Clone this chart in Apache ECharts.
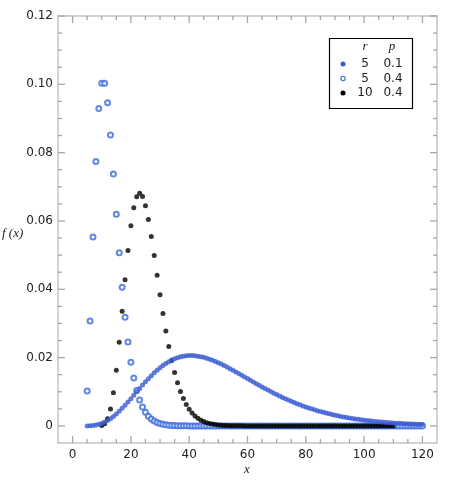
<!DOCTYPE html>
<html>
<head>
<meta charset="utf-8">
<script src="https://cdn.jsdelivr.net/npm/echarts@6/dist/echarts.min.js"></script>
<style>html,body{margin:0;padding:0;background:#fff}#main{width:460px;height:480px}</style>
</head>
<body>
<div id="main"></div>
<script>
// r = 5, p = 0.1  (x from 5 to 120)
var xStartA = 5;
var valuesA = [
  0.00001, 0.000045, 0.00012, 0.00026, 0.00046, 0.00074, 0.00112, 0.00158, 0.00213, 0.00277,
  0.00349, 0.00428, 0.00514, 0.00605, 0.00700, 0.00798, 0.00898, 0.00998, 0.01098, 0.01196,
  0.01292, 0.01384, 0.01472, 0.01555, 0.01633, 0.01705, 0.01771, 0.01830, 0.01882, 0.01927,
  0.01966, 0.01998, 0.02023, 0.02041, 0.02053, 0.02059, 0.02059, 0.02053, 0.02042, 0.02027,
  0.02007, 0.01982, 0.01954, 0.01922, 0.01887, 0.01849, 0.01809, 0.01767, 0.01723, 0.01677,
  0.01630, 0.01582, 0.01533, 0.01484, 0.01435, 0.01385, 0.01336, 0.01286, 0.01238, 0.01189,
  0.01142, 0.01095, 0.01049, 0.01004, 0.00960, 0.00917, 0.00876, 0.00835, 0.00796, 0.00758,
  0.00721, 0.00685, 0.00651, 0.00618, 0.00586, 0.00556, 0.00527, 0.00499, 0.00472, 0.00446,
  0.00422, 0.00398, 0.00376, 0.00355, 0.00334, 0.00315, 0.00297, 0.00279, 0.00263, 0.00247,
  0.00232, 0.00218, 0.00205, 0.00192, 0.00181, 0.00169, 0.00159, 0.00149, 0.00139, 0.00130,
  0.00122, 0.00114, 0.00107, 0.00100, 0.00093, 0.00087, 0.00081, 0.00076, 0.00071, 0.00066,
  0.00062, 0.00058, 0.00054, 0.00050, 0.00047, 0.00043
];
// r = 5, p = 0.4  (x from 5 to 120)
var xStartB = 5;
var valuesB = [
  0.01024, 0.03072, 0.05530, 0.07741, 0.09290, 0.10033, 0.10033, 0.09460, 0.08514, 0.07378,
  0.06198, 0.05071, 0.04057, 0.03183, 0.02455, 0.01866, 0.01400, 0.01037, 0.00761, 0.00553,
  0.00398, 0.00284, 0.00202, 0.00142, 0.00099, 0.00069, 0.00048, 0.00033, 0.00023, 0.00015,
  0.00011, 0.00007, 0.00005, 0.00003, 0.00002, 0.00001, 0, 0, 0, 0,
  0, 0, 0, 0, 0, 0, 0, 0, 0, 0,
  0, 0, 0, 0, 0, 0, 0, 0, 0, 0,
  0, 0, 0, 0, 0, 0, 0, 0, 0, 0,
  0, 0, 0, 0, 0, 0, 0, 0, 0, 0,
  0, 0, 0, 0, 0, 0, 0, 0, 0, 0,
  0, 0, 0, 0, 0, 0, 0, 0, 0, 0,
  0, 0, 0, 0, 0, 0, 0, 0, 0, 0,
  0, 0, 0, 0, 0, 0
];
// r = 10, p = 0.4  (x from 10 to 120)
var xStartC = 10;
var valuesC = [
  0.00010, 0.00063, 0.00208, 0.00498, 0.00972, 0.01632, 0.02449, 0.03358, 0.04281, 0.05138,
  0.05857, 0.06390, 0.06709, 0.06812, 0.06715, 0.06446, 0.06043, 0.05546, 0.04991, 0.04413,
  0.03840, 0.03291, 0.02782, 0.02323, 0.01916, 0.01564, 0.01263, 0.01010, 0.00801, 0.00630,
  0.00491, 0.00380, 0.00292, 0.00223, 0.00169, 0.00128, 0.00096, 0.00071, 0.00053, 0.00039,
  0.00029, 0.00021, 0.00015, 0.00011, 0.00008, 0.00006, 0.00004, 0.00003, 0.00002, 0.00001,
  0, 0, 0, 0, 0, 0, 0, 0, 0, 0,
  0, 0, 0, 0, 0, 0, 0, 0, 0, 0,
  0, 0, 0, 0, 0, 0, 0, 0, 0, 0,
  0, 0, 0, 0, 0, 0, 0, 0, 0, 0,
  0, 0, 0, 0, 0, 0, 0, 0, 0, 0,
  0
];

var xLabels = [0, 20, 40, 60, 80, 100, 120];
var xTicks = [0, 5, 10, 15, 20, 25, 30, 35, 40, 45, 50, 55, 60, 65, 70, 75, 80, 85, 90, 95, 100, 105, 110, 115, 120];
var yLabels = [0, 0.02, 0.04, 0.06, 0.08, 0.10, 0.12];
var yTicks = [0, 0.005, 0.01, 0.015, 0.02, 0.025, 0.03, 0.035, 0.04, 0.045, 0.05, 0.055, 0.06,
  0.065, 0.07, 0.075, 0.08, 0.085, 0.09, 0.095, 0.1, 0.105, 0.11, 0.115, 0.12];

var legendR = ['5', '5', '10'];
var legendP = ['0.1', '0.4', '0.4'];

(function () {
  var blue = '#3a5bd5';
  var blueOpen = '#3b6ae0';
  var frameColor = '#c4c4c4';
  var tickColor = '#a6a6a6';
  var labelFont = '"DejaVu Sans", sans-serif';
  var serif = '"Liberation Serif", "DejaVu Serif", serif';

  function pairs(x0, ys) {
    return ys.map(function (y, i) { return [x0 + i, y]; });
  }
  function isMajor(v, list) {
    return list.some(function (m) { return Math.abs(m - v) < 1e-9; });
  }

  function xAx(pos, labels) {
    return {
      type: 'value', position: pos, min: -5, max: 125,
      splitLine: { show: false },
      axisLine: { show: true, onZero: false, lineStyle: { color: frameColor, width: 1.5 } },
      axisTick: { show: false },
      axisLabel: labels ? { show: true, customValues: labels, margin: 6, color: '#222', fontSize: 12, fontFamily: labelFont } : { show: false }
    };
  }
  function yAx(pos, labels) {
    return {
      type: 'value', position: pos, min: -0.005, max: 0.12,
      splitLine: { show: false },
      axisLine: { show: true, onZero: false, lineStyle: { color: frameColor, width: 1.5 } },
      axisTick: { show: false },
      axisLabel: labels ? {
        show: true, customValues: labels, margin: 5, color: '#222', fontSize: 12, fontFamily: labelFont,
        formatter: function (v) { return Math.abs(v) < 1e-9 ? '0' : v.toFixed(2); }
      } : { show: false }
    };
  }

  var myChart = echarts.init(document.getElementById('main'));

  var legendItems = [
    { type: 'rect', shape: { x: 329.5, y: 38.5, width: 83, height: 70 }, style: { fill: '#fff', stroke: '#000', lineWidth: 1.2 } },
    { type: 'text', x: 365, y: 47, style: { text: 'r', font: 'italic 13px ' + serif, fill: '#222', align: 'center', verticalAlign: 'middle', textAlign: 'center', textVerticalAlign: 'middle' } },
    { type: 'text', x: 392, y: 47, style: { text: 'p', font: 'italic 13px ' + serif, fill: '#222', align: 'center', verticalAlign: 'middle', textAlign: 'center', textVerticalAlign: 'middle' } },
    { type: 'circle', shape: { cx: 343, cy: 64, r: 2.5 }, style: { fill: blue } },
    { type: 'circle', shape: { cx: 343, cy: 78.5, r: 2.2 }, style: { fill: '#fff', stroke: blueOpen, lineWidth: 1.1 } },
    { type: 'circle', shape: { cx: 343, cy: 93, r: 2.5 }, style: { fill: '#000' } }
  ];
  var rowY = [64, 78.5, 93];
  for (var i = 0; i < legendR.length; i++) {
    legendItems.push({ type: 'text', x: 365, y: rowY[i], style: { text: legendR[i], font: '12px ' + labelFont, fill: '#222', align: 'center', verticalAlign: 'middle', textAlign: 'center', textVerticalAlign: 'middle' } });
    legendItems.push({ type: 'text', x: 393, y: rowY[i], style: { text: legendP[i], font: '12px ' + labelFont, fill: '#222', align: 'center', verticalAlign: 'middle', textAlign: 'center', textVerticalAlign: 'middle' } });
  }

  var graphics = [
    { type: 'text', x: 2, y: 234, style: { text: 'f (x)', font: 'italic 13px ' + serif, fill: '#222', align: 'left', verticalAlign: 'middle', textAlign: 'left', textVerticalAlign: 'middle' } },
    { type: 'text', x: 247, y: 470, style: { text: 'x', font: 'italic 13px ' + serif, fill: '#222', align: 'center', verticalAlign: 'middle', textAlign: 'center', textVerticalAlign: 'middle' } },
    { type: 'group', children: legendItems }
  ];

  var option = {
    backgroundColor: '#fff',
    animation: false,
    grid: { left: 58, right: 23, top: 16, bottom: 37 },
    xAxis: [xAx('bottom', xLabels), xAx('top', null)],
    yAxis: [yAx('left', yLabels), yAx('right', null)],
    series: [
      {
        name: 'r=5, p=0.4', type: 'scatter', symbol: 'emptyCircle', symbolSize: 5,
        itemStyle: { color: blueOpen, borderWidth: 1.1 },
        data: pairs(xStartB, valuesB)
      },
      {
        name: 'r=10, p=0.4', type: 'scatter', symbol: 'circle', symbolSize: 5,
        itemStyle: { color: '#000' },
        data: pairs(xStartC, valuesC)
      },
      {
        name: 'r=5, p=0.1', type: 'scatter', symbol: 'circle', symbolSize: 5,
        itemStyle: { color: blue },
        data: pairs(xStartA, valuesA)
      }
    ],
    graphic: graphics
  };
  myChart.setOption(option);

  // frame ticks on all four sides, positioned through the axis scales
  function px(v) { return myChart.convertToPixel({ xAxisIndex: 0, yAxisIndex: 0 }, v); }
  function tickLine(x1, y1, x2, y2) {
    return { type: 'line', z: 50, shape: { x1: x1, y1: y1, x2: x2, y2: y2 }, style: { stroke: tickColor, lineWidth: 1.3 } };
  }
  var c0 = px([-5, -0.005]);
  var c1 = px([125, 0.12]);
  if (!c0 || !c1) return;
  var gLeft = c0[0], gBottom = c0[1], gRight = c1[0], gTop = c1[1];
  var tickEls = [];
  xTicks.forEach(function (v) {
    var x = px([v, 0])[0];
    var len = isMajor(v, xLabels) ? 7 : 4;
    tickEls.push(tickLine(x, gBottom, x, gBottom - len));
    tickEls.push(tickLine(x, gTop, x, gTop + len));
  });
  yTicks.forEach(function (v) {
    var y = px([0, v])[1];
    var len = isMajor(v, yLabels) ? 7 : 4;
    tickEls.push(tickLine(gLeft, y, gLeft + len, y));
    tickEls.push(tickLine(gRight, y, gRight - len, y));
  });
  myChart.setOption({ graphic: graphics.concat([{ type: 'group', children: tickEls }]) });
})();
</script>
</body>
</html>
